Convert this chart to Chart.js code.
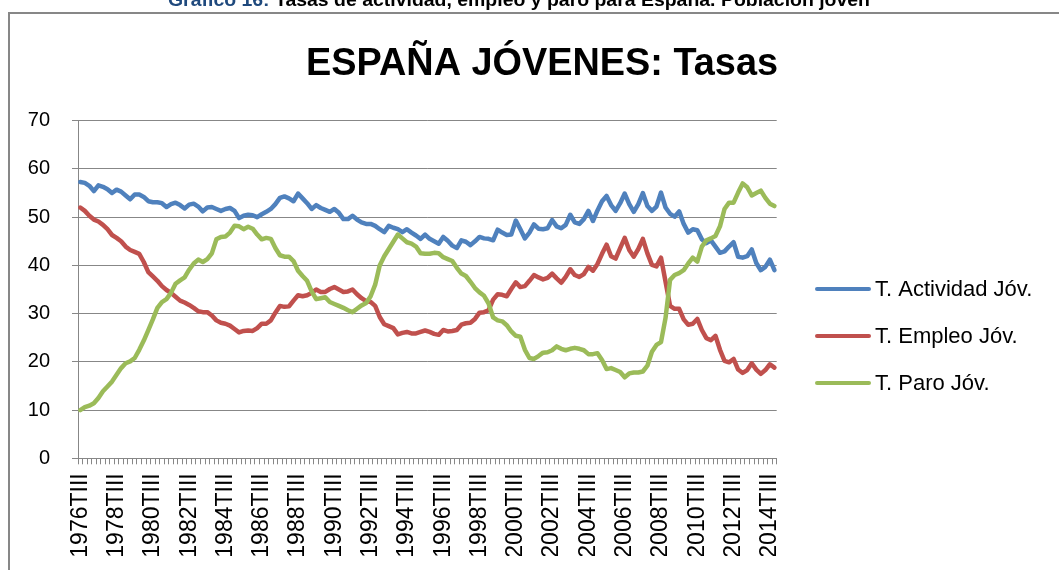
<!DOCTYPE html>
<html>
<head>
<meta charset="utf-8">
<script src="https://cdn.jsdelivr.net/npm/chart.js@4.4.1/dist/chart.umd.min.js"></script>
<style>
  html, body { margin: 0; padding: 0; background: #fff; overflow: hidden; }
  canvas { display: block; }
</style>
</head>
<body>
<canvas id="chart" width="1059" height="570"></canvas>
<script>
// quarters 1976TIII .. 2014TIV
const quarterNames = ['TI', 'TII', 'TIII', 'TIV'];
const quarters = [];
for (let k = 0; k < 154; k++) {
  const q = 2 + k;
  quarters.push((1976 + Math.floor(q / 4)) + quarterNames[q % 4]);
}

// labels printed on the axis (every 2 years)
const shownTicks = ['1976TIII', '1978TIII', '1980TIII', '1982TIII', '1984TIII', '1986TIII',
  '1988TIII', '1990TIII', '1992TIII', '1994TIII', '1996TIII', '1998TIII', '2000TIII',
  '2002TIII', '2004TIII', '2006TIII', '2008TIII', '2010TIII', '2012TIII', '2014TIII'];

const yTicks = [0, 10, 20, 30, 40, 50, 60, 70];

const seriesNames = ['T. Actividad Jóv.', 'T. Empleo Jóv.', 'T. Paro Jóv.'];

const actividad = [
  57.3, 57.1, 56.5, 55.4, 56.6, 56.3, 55.8, 55.0, 55.7, 55.3,
  54.5, 53.7, 54.7, 54.7, 54.2, 53.3, 53.1, 53.1, 52.9, 52.1,
  52.7, 53.0, 52.5, 51.8, 52.6, 52.8, 52.2, 51.2, 52.0, 52.1,
  51.7, 51.3, 51.7, 51.9, 51.3, 49.8, 50.3, 50.5, 50.4, 50.0,
  50.6, 51.1, 51.7, 52.7, 54.0, 54.3, 53.9, 53.3, 54.9, 53.9,
  52.9, 51.7, 52.5, 51.9, 51.5, 51.1, 51.7, 50.9, 49.6, 49.6,
  50.3, 49.5, 48.9, 48.6, 48.6, 48.2, 47.5, 46.9, 48.2, 47.8,
  47.5, 46.9, 47.5, 46.8, 46.2, 45.5, 46.4, 45.5, 45.0, 44.5,
  45.9, 45.1, 44.1, 43.6, 45.2, 44.9, 44.2, 45.0, 45.9, 45.6,
  45.5, 45.2, 47.4, 46.8, 46.3, 46.4, 49.3, 47.5, 45.6, 46.8,
  48.5, 47.6, 47.5, 47.7, 49.4, 48.1, 47.7, 48.4, 50.5, 48.9,
  48.6, 49.6, 51.3, 49.2, 51.4, 53.3, 54.4, 52.5, 51.3, 52.9,
  54.9, 52.7, 51.1, 52.7, 55.0, 52.3, 51.3, 52.2, 55.1, 52.0,
  50.7, 50.1, 51.2, 48.6, 46.8, 47.5, 47.3, 45.4, 44.6, 45.2,
  43.9, 42.6, 42.9, 43.9, 44.8, 41.8, 41.6, 41.9, 43.3, 40.5,
  39.0, 39.7, 41.2, 39.0
];

const empleo = [
  52.0, 51.3, 50.3, 49.5, 49.1, 48.4, 47.5, 46.3, 45.7, 45.0,
  43.9, 43.2, 42.8, 42.4, 40.7, 38.6, 37.7, 36.8, 35.7, 34.9,
  34.3, 33.5, 32.7, 32.3, 31.8, 31.2, 30.5, 30.3, 30.3, 29.6,
  28.6, 28.1, 27.9, 27.5, 26.8, 26.1, 26.4, 26.5, 26.4, 27.0,
  27.9, 27.9, 28.6, 30.2, 31.6, 31.4, 31.5, 32.7, 33.8, 33.6,
  33.8, 34.3, 35.0, 34.5, 34.5, 35.1, 35.5, 35.0, 34.5, 34.6,
  35.0, 34.0, 33.2, 32.6, 32.4, 31.6, 29.3, 27.8, 27.4, 27.0,
  25.7, 26.0, 26.2, 25.9, 25.9, 26.2, 26.5, 26.2, 25.8, 25.6,
  26.6, 26.3, 26.4, 26.6, 27.7, 28.0, 28.1, 28.9, 30.2, 30.3,
  30.7, 32.9, 34.0, 33.9, 33.6, 35.1, 36.5, 35.5, 35.7, 36.8,
  38.0, 37.5, 37.1, 37.4, 38.3, 37.3, 36.4, 37.6, 39.2, 38.0,
  37.6, 38.2, 39.7, 38.9, 40.3, 42.4, 44.3, 41.9, 41.4, 43.6,
  45.7, 43.2, 41.8, 43.4, 45.5, 42.5, 40.1, 39.8, 41.6, 36.6,
  31.6, 31.0, 31.0, 28.8, 27.7, 27.9, 28.9, 26.6, 24.9, 24.5,
  25.4, 22.5, 20.2, 19.9, 20.6, 18.4, 17.7, 18.3, 19.7, 18.4,
  17.5, 18.3, 19.5, 18.8
];

const paro = [
  10.0, 10.6, 10.9, 11.4, 12.5, 13.9, 14.9, 15.9, 17.3, 18.7,
  19.7, 20.1, 20.8, 22.5, 24.4, 26.6, 28.8, 31.2, 32.4, 33.0,
  34.3, 36.2, 36.9, 37.5, 39.1, 40.4, 41.2, 40.7, 41.3, 42.5,
  45.4, 45.9, 46.0, 46.8, 48.2, 48.1, 47.5, 48.0, 47.6, 46.4,
  45.4, 45.7, 45.5, 43.6, 42.1, 41.8, 41.8, 40.9, 38.9, 37.8,
  36.8, 34.6, 33.0, 33.2, 33.4, 32.4, 32.0, 31.6, 31.2, 30.7,
  30.3, 31.0, 31.7, 32.2, 33.6, 36.0, 40.0, 41.9, 43.4, 44.9,
  46.4, 45.6, 44.8, 44.5, 43.9, 42.5, 42.4, 42.4, 42.6, 42.5,
  41.7, 41.3, 40.9, 39.5, 38.3, 37.8, 36.6, 35.3, 34.4, 33.7,
  32.1, 29.2, 28.6, 28.4, 27.6, 26.3, 25.4, 25.2, 22.5, 20.8,
  20.6, 21.2, 21.9, 22.0, 22.4, 23.2, 22.7, 22.4, 22.7, 22.9,
  22.7, 22.4, 21.6, 21.6, 21.8, 20.4, 18.5, 18.7, 18.3, 17.9,
  16.8, 17.6, 17.8, 17.8, 18.0, 19.2, 22.1, 23.5, 24.1, 29.1,
  37.0, 38.0, 38.4, 39.0, 40.4, 41.6, 40.8, 43.9, 45.2, 45.6,
  46.1, 48.1, 51.7, 53.0, 53.0, 55.1, 57.0, 56.2, 54.5, 55.0,
  55.5, 54.0, 52.8, 52.3
];

const colors = ['#4F81BD', '#C0504D', '#9BBB59'];
const gridColor = '#878787';
const fontFamily = '"Liberation Sans", Arial, sans-serif';

// frame, header, big title and legend drawn around the plot
const decorations = {
  id: 'decorations',
  beforeDraw(chart) {
    const ctx = chart.ctx;
    ctx.save();
    ctx.fillStyle = '#fff';
    ctx.fillRect(0, 0, chart.width, chart.height);
    ctx.strokeStyle = gridColor;
    ctx.lineWidth = 2;
    ctx.strokeRect(9, 13, 1200, 700);

    // header (mostly cut off at the top)
    ctx.font = 'bold 18px ' + fontFamily;
    ctx.textBaseline = 'alphabetic';
    const h1 = 'Gráfico 16: ';
    const h2 = 'Tasas de actividad, empleo y paro para España. Población joven';
    const w1 = ctx.measureText(h1).width;
    const w2 = ctx.measureText(h2).width;
    const sx = 702 / (w1 + w2);
    ctx.save();
    ctx.translate(168, 6);
    ctx.scale(sx, 1);
    ctx.fillStyle = '#1F497D';
    ctx.fillText(h1, 0, 0);
    ctx.fillStyle = '#000';
    ctx.fillText(h2, w1, 0);
    ctx.restore();

    // chart title
    const title = 'ESPAÑA JÓVENES: Tasas';
    ctx.font = 'bold 39px ' + fontFamily;
    const tw = ctx.measureText(title).width;
    ctx.save();
    ctx.translate(306, 75);
    ctx.scale(472 / tw, 1);
    ctx.fillStyle = '#000';
    ctx.fillText(title, 0, 0);
    ctx.restore();
    ctx.restore();
  },
  afterDraw(chart) {
    const ctx = chart.ctx;
    ctx.save();
    const ys = [289, 336, 383];
    chart.data.datasets.forEach((ds, i) => {
      ctx.strokeStyle = ds.borderColor;
      ctx.lineWidth = 4;
      ctx.lineCap = 'round';
      ctx.beginPath();
      ctx.moveTo(817, ys[i]);
      ctx.lineTo(869, ys[i]);
      ctx.stroke();
      ctx.fillStyle = '#000';
      ctx.font = '22px ' + fontFamily;
      ctx.textBaseline = 'middle';
      ctx.fillText(ds.label, 875, ys[i] + 1);
    });
    // the original picture is cut just under the axis labels
    ctx.fillStyle = '#fff';
    ctx.fillRect(11, 556, 1100, 20);
    ctx.restore();
  }
};

const ctx = document.getElementById('chart').getContext('2d');
new Chart(ctx, {
  type: 'line',
  data: {
    labels: quarters,
    datasets: [actividad, empleo, paro].map((vals, i) => ({
      label: seriesNames[i],
      data: vals,
      borderColor: colors[i],
      backgroundColor: colors[i],
      borderWidth: 4.5,
      pointRadius: 0,
      tension: 0,
      borderJoinStyle: 'round',
      borderCapStyle: 'round',
      order: 2 - i
    }))
  },
  options: {
    responsive: false,
    animation: false,
    layout: { padding: { top: 120.7, right: 282.3, left: 0, bottom: 0 } },
    plugins: {
      legend: { display: false },
      title: { display: false },
      tooltip: { enabled: false }
    },
    scales: {
      x: {
        offset: true,
        grid: { offset: true, drawOnChartArea: false, drawTicks: true, tickLength: 6, color: gridColor, lineWidth: 1 },
        border: { color: gridColor, width: 1 },
        ticks: {
          autoSkip: false,
          minRotation: 90,
          maxRotation: 90,
          padding: 9,
          color: '#000',
          font: { family: fontFamily, size: 23 },
          callback: function (value) {
            const lab = this.getLabelForValue(value);
            return shownTicks.includes(lab) ? lab : '';
          }
        },
        afterFit(scale) {
          scale.height = 111.7;
          scale.paddingLeft = 0;
          scale.paddingRight = 0;
        }
      },
      y: {
        min: yTicks[0],
        max: yTicks[yTicks.length - 1],
        afterBuildTicks(scale) {
          scale.ticks = yTicks.map(v => ({ value: v }));
        },
        grid: { color: gridColor, lineWidth: 1, drawTicks: true, tickLength: 6 },
        border: { color: gridColor, width: 1 },
        ticks: {
          padding: 22,
          color: '#000',
          font: { family: fontFamily, size: 20 }
        },
        afterFit(scale) {
          scale.width = 78;
          scale.paddingTop = 0;
          scale.paddingBottom = 0;
        }
      }
    }
  },
  plugins: [decorations]
});
</script>
</body>
</html>
